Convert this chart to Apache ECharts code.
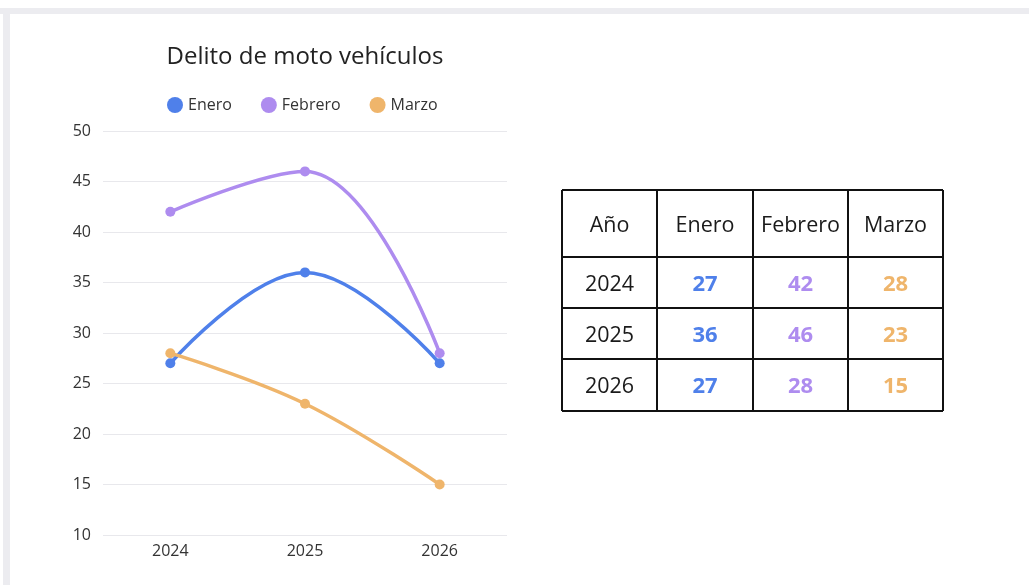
<!DOCTYPE html>
<html>
<head>
<meta charset="utf-8">
<script src="https://cdn.jsdelivr.net/npm/echarts@6/dist/echarts.min.js"></script>
<style>
html,body{margin:0;padding:0;background:#fff;}
#c{width:1029px;height:585px;}
</style>
</head>
<body>
<div id="c"></div>
<script>
const title = 'Delito de moto vehículos';
const years = ['2024', '2025', '2026'];
const seriesNames = ['Enero', 'Febrero', 'Marzo'];
const enero = [27, 36, 27];
const febrero = [42, 46, 28];
const marzo = [28, 23, 15];
const colors = ['#4f80ea', '#ae8cef', '#efb56b'];
const tableHeader = ['Año', 'Enero', 'Febrero', 'Marzo'];
const yTicks = {min: 10, max: 50, interval: 5};

const FONT = '"Open Sans", "Noto Sans", sans-serif';
const values = [enero, febrero, marzo];

// table layout
const tX = 562, tY = 190;
const colW = [95, 96, 95, 95];
const rowH = [67, 51, 51, 52];
const graphic = [];
// frame
graphic.push({type:'rect', shape:{x:0,y:8,width:1029,height:6}, style:{fill:'#ececf0'}, silent:true});
graphic.push({type:'rect', shape:{x:3,y:8,width:7,height:577}, style:{fill:'#ececf0'}, silent:true});

const totalW = colW.reduce((a,b)=>a+b,0);
const totalH = rowH.reduce((a,b)=>a+b,0);
let cy = tY;
const rows = [tableHeader].concat(years.map((y,i)=>[y, enero[i], febrero[i], marzo[i]]));
rows.forEach((row, r) => {
  let cx = tX;
  row.forEach((cell, c) => {
    const isVal = r > 0 && c > 0;
    graphic.push({
      type:'text',
      x: cx + colW[c]/2, y: cy + rowH[r]/2 + 2,
      style:{
        text: String(cell),
        align:'center', verticalAlign:'middle',
        font: (isVal ? 'bold 22px ' : '21.5px ') + FONT,
        fill: isVal ? colors[c-1] : '#1a1a1a'
      },
      silent:true
    });
    cx += colW[c];
  });
  cy += rowH[r];
});
// grid lines of table
let lx = tX;
for (let c = 0; c <= colW.length; c++) {
  graphic.push({type:'line', shape:{x1:lx,y1:tY,x2:lx,y2:tY+totalH}, style:{stroke:'#111',lineWidth:2}, silent:true});
  if (c < colW.length) lx += colW[c];
}
let ly = tY;
for (let r = 0; r <= rowH.length; r++) {
  graphic.push({type:'line', shape:{x1:tX,y1:ly,x2:tX+totalW,y2:ly}, style:{stroke:'#111',lineWidth:2}, silent:true});
  if (r < rowH.length) ly += rowH[r];
}

const chart = echarts.init(document.getElementById('c'));
chart.setOption({
  backgroundColor:'#fff',
  animation:false,
  textStyle:{fontFamily:FONT},
  title:{
    text: title, left: 300, textAlign:'center', top: 40,
    textStyle:{fontSize:24, fontWeight:'normal', color:'#222', fontFamily:FONT}
  },
  legend:{
    data: seriesNames, left: 162, top: 92, icon:'circle',
    itemWidth:16, itemHeight:16, itemGap:29, itemStyle:{borderWidth:0},
    textStyle:{fontSize:16, color:'#333', fontFamily:FONT}
  },
  grid:{left:103, right:522, top:131, bottom:50, containLabel:false},
  xAxis:{
    type:'category', data: years, boundaryGap:true,
    axisLine:{show:false}, axisTick:{show:false},
    axisLabel:{fontSize:16, color:'#333', margin:8, fontFamily:FONT}
  },
  yAxis:{
    type:'value', min:yTicks.min, max:yTicks.max, interval:yTicks.interval,
    axisLine:{show:false}, axisTick:{show:false},
    splitLine:{lineStyle:{color:'#e8e8ec', width:1}},
    axisLabel:{fontSize:16, color:'#333', margin:12, fontFamily:FONT}
  },
  series: seriesNames.map((n,i)=>({
    name:n, type:'line', data: values[i], smooth:0.4,
    symbol:'circle', symbolSize:10,
    lineStyle:{width:3.5, color:colors[i]},
    itemStyle:{color:colors[i]}
  })),
  graphic: graphic
});
</script>
</body>
</html>
